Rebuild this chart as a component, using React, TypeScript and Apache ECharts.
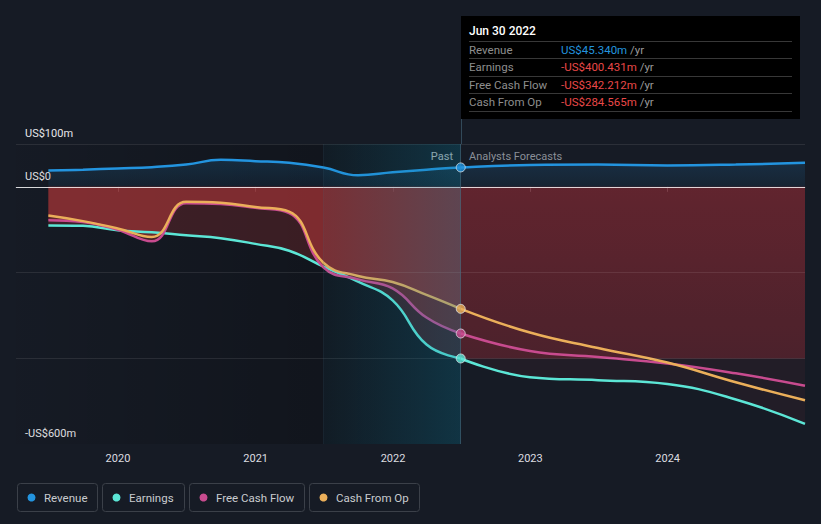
import React, { useEffect, useRef } from 'react';
import * as echarts from 'echarts';

// ---------- data ----------
const pastDates = ['2019-06-30', '2019-09-30', '2019-12-31', '2020-03-31', '2020-06-30', '2020-09-30', '2020-12-31', '2021-03-31', '2021-06-30', '2021-09-30', '2021-12-31', '2022-03-31', '2022-06-30'];
const revenuePast = [38, 40, 43, 46, 52, 63, 60, 56, 45, 27, 34, 40, 45.34];
const earningsPast = [-90, -91, -101, -106, -113, -120, -133, -149, -186, -221, -265, -368, -400.431];
const fcfPast = [-78, -82, -100, -127, -38, -40, -49, -61, -188, -216, -237, -305, -342.212];
const cfoPast = [-67, -80, -97, -117, -35, -37, -47, -58, -177, -208, -222, -252, -284.565];

const foreDates = ['2022-06-30', '2022-12-31', '2023-06-30', '2023-12-31', '2024-06-30', '2024-12-31'];
const revenueFore = [45.34, 51, 52, 50, 52, 56];
const earningsFore = [-400.431, -444, -451, -460, -496, -553];
const fcfFore = [-342.212, -383, -397, -412, -435, -464];
const cfoFore = [-284.565, -340, -376, -410, -456, -498];

const bandStartDate = '2021-06-30';
const axisStartDate = '2019-04-05';
const axisEndDate = '2024-12-31';
const yearTicks = ['2020-01-01', '2021-01-01', '2022-01-01', '2023-01-01', '2024-01-01'];
const yLabels: Record<string, string> = { '100': 'US$100m', '0': 'US$0', '-600': '-US$600m' };
const gridValues = [100, -200, -400];

const seriesNames = ['Revenue', 'Earnings', 'Free Cash Flow', 'Cash From Op'];
const seriesColors = ['#2394DF', '#5CE6D6', '#C84B8F', '#EBAF5A'];

// ---------- helpers ----------
const BG = '#161b25';
const FONT = 'Roboto, "Noto Sans", sans-serif';
const d = (s: string) => {
  const [y, m, dd] = s.split('-').map(Number);
  return new Date(y, m - 1, dd).getTime();
};
const pair = (dates: string[], vals: number[]) => dates.map((t, i) => [d(t), vals[i]]);
const fmtVal = (v: number) => (v < 0 ? '-' : '') + 'US$' + Math.abs(v).toFixed(3) + 'm';
const MONTHS = ['Jan', 'Feb', 'Mar', 'Apr', 'May', 'Jun', 'Jul', 'Aug', 'Sep', 'Oct', 'Nov', 'Dec'];
const fmtDate = (s: string) => {
  const [y, m, dd] = s.split('-').map(Number);
  return `${MONTHS[m - 1]} ${dd} ${y}`;
};

const pastEndStr = pastDates[pastDates.length - 1];
const pastEnd = d(pastEndStr);
const xMin = d(axisStartDate);
const xMax = d(axisEndDate);
const bandStart = d(bandStartDate);

function buildOption() {
  const lastIdx = pastDates.length - 1;
  const pastVals = [revenuePast[lastIdx], earningsPast[lastIdx], fcfPast[lastIdx], cfoPast[lastIdx]];

  const lineBase = (name: string, color: string, data: any[], extra: any = {}) => ({
    type: 'line',
    name,
    data,
    smooth: 0.45,
    symbol: 'none',
    silent: true,
    z: 2,
    lineStyle: { color, width: 2.5 },
    ...extra,
  });

  const dummy = (extra: any) => ({
    type: 'line',
    data: [[pastEnd, 0]],
    symbol: 'none',
    silent: true,
    lineStyle: { opacity: 0 },
    ...extra,
  });

  // graphic: tooltip box
  const tipX = 461, tipY = 16, tipW = 339, tipH = 103;
  const rowY = [50, 67, 84.5, 101.5];
  const sepY = [41.5, 58.5, 76.5, 93.5, 111.5];
  const tooltip: any[] = [
    { type: 'rect', shape: { x: tipX, y: tipY, width: tipW, height: tipH }, style: { fill: '#000' }, silent: true },
    { type: 'text', x: 469, y: 31, style: { text: fmtDate(pastEndStr), fill: '#fff', fontSize: 12, fontWeight: 500, fontFamily: FONT, verticalAlign: 'middle' } },
    ...sepY.map((y) => ({ type: 'line', shape: { x1: 469, y1: y, x2: 792, y2: y }, style: { stroke: '#383838', lineWidth: 1 } })),
    ...seriesNames.map((n, i) => ({ type: 'text', x: 469, y: rowY[i], style: { text: n, fill: '#8e8e8e', fontSize: 11.5, fontFamily: FONT, verticalAlign: 'middle' } })),
    ...pastVals.map((v, i) => ({
      type: 'text', x: 561, y: rowY[i],
      style: {
        text: `{v|${fmtVal(v)}} {u|/yr}`,
        verticalAlign: 'middle',
        fontSize: 11.5, fontFamily: FONT,
        rich: {
          v: { fill: v < 0 ? '#E94848' : seriesColors[0], color: v < 0 ? '#E94848' : seriesColors[0], fontSize: 11.5, fontFamily: FONT },
          u: { fill: '#9a9a9a', color: '#9a9a9a', fontSize: 11.5, fontFamily: FONT },
        },
      },
    })),
    { type: 'line', shape: { x1: 461.5, y1: tipY + tipH, x2: 461.5, y2: 144 }, style: { stroke: 'rgba(70,105,125,0.6)', lineWidth: 1 } },
    { type: 'text', x: 453, y: 156, style: { text: 'Past', fill: '#ffffff', fontSize: 11, fontFamily: FONT, align: 'right', verticalAlign: 'middle' } },
    { type: 'text', x: 469, y: 156, style: { text: 'Analysts Forecasts', fill: '#8a8f98', fontSize: 11, fontFamily: FONT, align: 'left', verticalAlign: 'middle' } },
  ];

  // graphic: legend
  const legX = [17, 102, 189, 309];
  const legW = [80, 82, 115, 110];
  const legend: any[] = [];
  seriesNames.forEach((n, i) => {
    legend.push({ type: 'rect', shape: { x: legX[i] + 0.5, y: 483.5, width: legW[i], height: 28, r: 3 }, style: { fill: 'transparent', stroke: '#3b4049', lineWidth: 1 } });
    legend.push({ type: 'circle', shape: { cx: legX[i] + 14.5, cy: 497.5, r: 4 }, style: { fill: seriesColors[i] } });
    legend.push({ type: 'text', x: legX[i] + 27, y: 497.5, style: { text: n, fill: '#c9cbcf', fontSize: 11.5, fontFamily: FONT, verticalAlign: 'middle' } });
  });

  return {
    animation: false,
    backgroundColor: BG,
    textStyle: { fontFamily: FONT },
    grid: { left: 16, right: 16, top: 144, bottom: 80, containLabel: false },
    xAxis: {
      type: 'value',
      min: xMin,
      max: xMax,
      axisLine: { show: true, lineStyle: { color: '#4b515b', width: 1 } },
      axisTick: { show: true, length: 5, lineStyle: { color: '#4b515b' }, customValues: yearTicks.map(d) },
      axisLabel: {
        color: '#dcdde0', fontSize: 11, margin: 9, fontFamily: FONT,
        customValues: yearTicks.map(d),
        formatter: (v: number) => String(new Date(v).getFullYear()),
      },
      splitLine: { show: false },
    },
    yAxis: {
      type: 'value',
      min: -600,
      max: 100,
      interval: 100,
      axisLine: { show: false },
      axisTick: { show: false },
      splitLine: { show: false },
      axisLabel: {
        inside: true,
        margin: 9,
        color: '#e6e7ea',
        fontSize: 11,
        fontFamily: FONT,
        verticalAlign: 'bottom',
        padding: [0, 0, 5, 0],
        formatter: (v: number) => yLabels[String(v)] || '',
      },
    },
    series: [
      dummy({
        z: 1,
        markArea: {
          silent: true,
          z: 1,
          data: [
            [
              { xAxis: xMin, itemStyle: { color: new echarts.graphic.LinearGradient(0, 0, 1, 0, [{ offset: 0, color: 'rgba(0,0,0,0.02)' }, { offset: 1, color: 'rgba(0,0,0,0.32)' }]) } },
              { xAxis: pastEnd },
            ],
            [
              { xAxis: pastEnd, yAxis: 0, itemStyle: { color: new echarts.graphic.LinearGradient(0, 0, 0, 1, [{ offset: 0, color: 'rgba(170,45,55,0.46)' }, { offset: 1, color: 'rgba(170,45,55,0.3)' }]) } },
              { xAxis: xMax, yAxis: earningsPast[lastIdx] },
            ],
          ],
        },
        markLine: {
          silent: true,
          z: 3,
          symbol: ['none', 'none'],
          label: { show: false },
          data: [
            ...gridValues.map((v) => ({ yAxis: v, lineStyle: { color: 'rgba(255,255,255,0.09)', width: 1, type: 'solid' } })),
            { yAxis: 0, lineStyle: { color: 'rgba(255,255,255,0.78)', width: 1, type: 'solid' } },
          ],
        },
      }),
      lineBase('Revenue', seriesColors[0], pair(pastDates.concat(foreDates.slice(1)), revenuePast.concat(revenueFore.slice(1))), {
        areaStyle: { color: new echarts.graphic.LinearGradient(0, 0, 0, 1, [{ offset: 0, color: 'rgba(35,148,223,0.24)' }, { offset: 1, color: 'rgba(35,148,223,0.1)' }]) },
      }),
      lineBase('Earnings', seriesColors[1], pair(pastDates, earningsPast), { areaStyle: { color: 'rgba(200,60,60,0.32)' } }),
      lineBase('Free Cash Flow', seriesColors[2], pair(pastDates, fcfPast), { areaStyle: { color: 'rgba(200,60,60,0.4)' } }),
      lineBase('Cash From Op', seriesColors[3], pair(pastDates, cfoPast), { areaStyle: { color: 'rgba(200,60,60,0.4)' } }),
      lineBase('Earnings F', seriesColors[1], pair(foreDates, earningsFore), { areaStyle: { color: 'rgba(200,50,70,0.1)' } }),
      lineBase('Free Cash Flow F', seriesColors[2], pair(foreDates, fcfFore)),
      lineBase('Cash From Op F', seriesColors[3], pair(foreDates, cfoFore)),
      dummy({
        z: 8,
        markArea: {
          silent: true,
          z: 8,
          data: [
            [
              { xAxis: bandStart, itemStyle: { color: new echarts.graphic.LinearGradient(0, 0, 1, 0, [{ offset: 0, color: 'rgba(20,130,165,0.06)' }, { offset: 1, color: 'rgba(20,130,165,0.3)' }]) } },
              { xAxis: pastEnd },
            ],
          ],
        },
        markLine: {
          silent: true,
          z: 8,
          symbol: ['none', 'none'],
          label: { show: false },
          data: [
            { xAxis: pastEnd, lineStyle: { color: 'rgba(70,105,125,0.6)', width: 1, type: 'solid' } },
            { xAxis: bandStart, lineStyle: { color: 'rgba(70,105,125,0.14)', width: 1, type: 'solid' } },
          ],
        },
      }),
      {
        type: 'scatter',
        z: 9,
        silent: true,
        symbolSize: 9,
        data: pastVals.map((v, i) => ({ value: [pastEnd, v], itemStyle: { color: seriesColors[i], borderColor: 'rgba(230,235,240,0.9)', borderWidth: 1 } })),
      },
    ],
    graphic: [...tooltip, ...legend],
  };
}

export default function App() {
  const ref = useRef<HTMLDivElement>(null);
  useEffect(() => {
    const chart = echarts.init(ref.current!, null, { renderer: 'svg' });
    chart.setOption(buildOption() as any);
    return () => chart.dispose();
  }, []);
  return <div ref={ref} style={{ position: 'fixed', left: 0, top: 0, width: 821, height: 524, background: BG }} />;
}
